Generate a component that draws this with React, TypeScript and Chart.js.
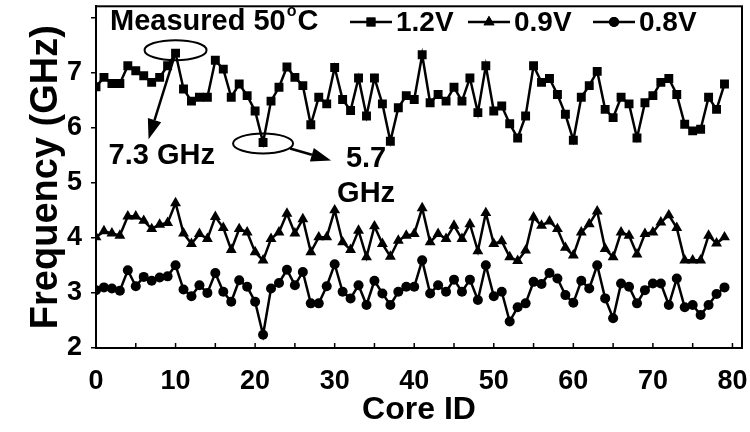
import React, { useEffect, useRef } from 'react';
import { Chart, registerables } from 'chart.js';
import { drawPoint } from 'chart.js/helpers';

Chart.register(...registerables);

const coreIds = Array.from({ length: 80 }, (_, i) => i);

const freq12V = [
  6.74, 6.91, 6.80, 6.80, 7.12, 7.03, 6.94, 6.82, 6.91, 7.12,
  7.35, 6.70, 6.48, 6.55, 6.55, 7.22, 7.06, 6.55, 6.79, 6.58,
  6.30, 5.73, 6.48, 6.73, 7.10, 6.91, 6.76, 6.05, 6.55, 6.43,
  7.09, 6.51, 6.31, 6.90, 6.21, 6.90, 6.43, 5.75, 6.36, 6.58,
  6.51, 7.32, 6.45, 6.60, 6.48, 6.73, 6.48, 6.90, 6.27, 7.12,
  6.30, 6.39, 6.07, 5.81, 6.21, 7.12, 6.82, 6.89, 6.60, 6.24,
  5.77, 6.55, 6.76, 7.02, 6.33, 6.18, 6.55, 6.43, 5.81, 6.45,
  6.58, 6.82, 6.89, 6.60, 6.06, 5.94, 5.97, 6.55, 6.33, 6.79,
];

const freq09V = [
  4.01, 4.12, 4.08, 4.04, 4.39, 4.39, 4.31, 4.16, 4.24, 4.27,
  4.63, 4.08, 3.89, 4.07, 3.98, 4.38, 4.18, 3.78, 4.16, 4.10,
  3.74, 3.59, 3.98, 4.10, 4.44, 4.08, 4.34, 3.74, 4.01, 4.01,
  4.50, 3.92, 3.78, 4.13, 3.65, 4.21, 3.89, 3.66, 3.95, 4.04,
  4.07, 4.54, 3.92, 4.07, 3.98, 4.22, 3.98, 4.25, 3.76, 4.45,
  3.89, 3.94, 3.65, 3.58, 3.77, 4.37, 4.22, 4.30, 4.16, 3.82,
  3.68, 4.10, 4.25, 4.48, 3.80, 3.65, 4.10, 4.04, 3.70, 4.07,
  4.10, 4.28, 4.41, 4.18, 3.59, 3.59, 3.59, 4.04, 3.90, 4.01,
];

const freq08V = [
  3.05, 3.10, 3.08, 3.04, 3.41, 3.12, 3.29, 3.22, 3.28, 3.30,
  3.50, 3.06, 2.94, 3.14, 3.00, 3.36, 3.02, 2.84, 3.23, 3.11,
  2.84, 2.24, 3.08, 3.18, 3.42, 3.14, 3.38, 2.81, 2.81, 3.12,
  3.52, 3.02, 2.90, 3.14, 2.78, 3.22, 2.99, 2.78, 3.02, 3.11,
  3.11, 3.59, 2.99, 3.14, 3.02, 3.24, 3.02, 3.24, 2.87, 3.50,
  2.94, 3.02, 2.48, 2.74, 2.81, 3.20, 3.16, 3.36, 3.26, 2.96,
  2.82, 3.22, 3.08, 3.50, 2.90, 2.54, 3.17, 3.11, 2.81, 3.05,
  3.17, 3.17, 2.78, 3.26, 2.74, 2.78, 2.60, 2.78, 2.98, 3.10,
];

const seriesLabels = ['1.2V', '0.9V', '0.8V'];
const seriesMarkers = ['rect', 'triangle', 'circle'];
const seriesRadius = [6.3, 6.3, 5];
const xTickLabels = [0, 10, 20, 30, 40, 50, 60, 70, 80];
const xMinorTicks = [0, 5, 10, 15, 20, 25, 30, 35, 40, 45, 50, 55, 60, 65, 70, 75, 80];
const yTickLabels = [2, 3, 4, 5, 6, 7];

const FONT = "'Liberation Sans', Arial, Helvetica, sans-serif";

const decorPlugin = {
  id: 'decor',
  afterDraw(chart: any) {
    const { ctx, chartArea: a, scales } = chart;
    const xs = scales.x;
    const ys = scales.y;
    ctx.save();
    ctx.strokeStyle = '#000';
    ctx.fillStyle = '#000';
    // frame
    ctx.lineWidth = 2;
    ctx.strokeRect(a.left, a.top, a.right - a.left, a.bottom - a.top);
    // inward x ticks
    ctx.lineWidth = 1.5;
    xMinorTicks.forEach((v) => {
      const px = xs.getPixelForValue(v);
      ctx.beginPath();
      ctx.moveTo(px, a.bottom);
      ctx.lineTo(px, a.bottom - 5);
      ctx.stroke();
    });

    // legend
    ctx.textBaseline = 'middle';
    ctx.textAlign = 'left';
    const ly = 22;
    ctx.font = `bold 29px ${FONT}`;
    const t1 = 'Measured 50';
    ctx.fillText(t1, 110, ly);
    let tx = 110 + ctx.measureText(t1).width + 1;
    ctx.font = `bold 16px ${FONT}`;
    ctx.fillText('o', tx, ly - 10);
    tx += ctx.measureText('o').width + 1;
    ctx.font = `bold 29px ${FONT}`;
    ctx.fillText('C', tx, ly);

    const starts = [350, 468, 593];
    chart.data.datasets.forEach((ds: any, i: number) => {
      const x0 = starts[i];
      ctx.lineWidth = 2.5;
      ctx.beginPath();
      ctx.moveTo(x0, ly);
      ctx.lineTo(x0 + 42, ly);
      ctx.stroke();
      drawPoint(ctx, { pointStyle: ds.pointStyle, radius: ds.pointRadius, rotation: 0, borderWidth: 0 } as any, x0 + 21, ly);
      ctx.fill();
      ctx.font = `bold 28px ${FONT}`;
      ctx.fillStyle = '#000';
      ctx.fillText(ds.label, x0 + 46, ly + 1);
    });

    // annotations
    const arrow = (x1: number, y1: number, x2: number, y2: number) => {
      const ang = Math.atan2(y2 - y1, x2 - x1);
      const hl = 20, hw = 7;
      const bx = x2 - hl * Math.cos(ang);
      const by = y2 - hl * Math.sin(ang);
      ctx.lineWidth = 2.5;
      ctx.beginPath();
      ctx.moveTo(x1, y1);
      ctx.lineTo(bx, by);
      ctx.stroke();
      ctx.beginPath();
      ctx.moveTo(x2, y2);
      ctx.lineTo(bx + hw * Math.sin(ang), by - hw * Math.cos(ang));
      ctx.lineTo(bx - hw * Math.sin(ang), by + hw * Math.cos(ang));
      ctx.closePath();
      ctx.fill();
    };

    const px = xs.getPixelForValue(10);
    const py = ys.getPixelForValue(freq12V[10]);
    ctx.lineWidth = 2;
    ctx.beginPath();
    ctx.ellipse(px, py - 3, 31, 10, 0, 0, Math.PI * 2);
    ctx.stroke();
    arrow(px - 1, py + 3, px - 27, py + 86);
    ctx.font = `bold 29px ${FONT}`;
    ctx.textAlign = 'left';
    ctx.fillText('7.3 GHz', px - 67, py + 103);

    const qx = xs.getPixelForValue(21);
    const qy = ys.getPixelForValue(freq12V[21]);
    ctx.lineWidth = 2;
    ctx.beginPath();
    ctx.ellipse(qx, qy + 1, 30, 10, 0, 0, Math.PI * 2);
    ctx.stroke();
    arrow(qx + 27, qy + 6, qx + 68, qy + 18);
    ctx.textAlign = 'center';
    ctx.fillText('5.7', qx + 103, qy + 17);
    ctx.fillText('GHz', qx + 103, qy + 52);

    ctx.restore();
  },
};

export default function App() {
  const ref = useRef<HTMLCanvasElement | null>(null);

  useEffect(() => {
    document.body.style.margin = '0';
    const canvas = ref.current;
    if (!canvas) return;
    const mk = (vals: number[], i: number) => ({
      label: seriesLabels[i],
      data: vals.map((y, k) => ({ x: coreIds[k], y })),
      borderColor: '#000',
      backgroundColor: '#000',
      borderWidth: 2.5,
      pointStyle: seriesMarkers[i],
      pointRadius: seriesRadius[i],
      pointBorderWidth: 0,
      pointBackgroundColor: '#000',
      tension: 0,
    });
    const chart = new Chart(canvas, {
      type: 'line',
      data: {
        datasets: [mk(freq12V, 0), mk(freq09V, 1), mk(freq08V, 2)],
      },
      options: {
        animation: false,
        responsive: false,
        devicePixelRatio: 1,
        layout: { padding: { top: 5, right: 8, left: 0, bottom: 0 } },
        plugins: { legend: { display: false }, tooltip: { enabled: false } },
        scales: {
          x: {
            type: 'linear',
            min: 0,
            max: 81.2,
            afterBuildTicks: (axis: any) => {
              axis.ticks = xTickLabels.map((v) => ({ value: v }));
            },
            afterFit: (axis: any) => {
              axis.height = 84;
              axis.paddingLeft = 0;
              axis.paddingRight = 0;
            },
            ticks: {
              autoSkip: false,
              maxRotation: 0,
              padding: 9,
              color: '#000',
              font: { family: FONT, size: 27, weight: 'bold' },
            },
            grid: { display: false },
            border: { display: true, color: '#000', width: 2 },
            title: {
              display: true,
              text: 'Core ID',
              color: '#000',
              font: { family: FONT, size: 32, weight: 'bold' },
              padding: { top: 0, bottom: 3 },
            },
          },
          y: {
            type: 'linear',
            min: 2,
            max: 8.2,
            afterBuildTicks: (axis: any) => {
              const t: any[] = [];
              yTickLabels.forEach((v) => {
                t.push({ value: v });
                t.push({ value: v + 0.5 });
              });
              t.push({ value: 8 });
              axis.ticks = t;
            },
            afterFit: (axis: any) => {
              axis.width = 96;
              axis.paddingTop = 0;
              axis.paddingBottom = 0;
            },
            ticks: {
              padding: 9,
              color: '#000',
              font: { family: FONT, size: 27, weight: 'bold' },
              callback: (v: any) => (yTickLabels.includes(Number(v)) ? String(v) : ''),
            },
            grid: {
              display: true,
              drawOnChartArea: false,
              drawTicks: true,
              tickLength: 5,
              color: '#000',
              lineWidth: 1.5,
            },
            border: { display: true, color: '#000', width: 2 },
            title: {
              display: true,
              text: 'Frequency (GHz)',
              color: '#000',
              font: { family: FONT, size: 38, weight: 'bold' },
              padding: { top: 24, bottom: 0 },
            },
          },
        },
      },
      plugins: [decorPlugin],
    } as any);
    return () => chart.destroy();
  }, []);

  return (
    <div style={{ width: 750, height: 432 }}>
      <canvas ref={ref} width={750} height={432} style={{ width: 750, height: 432, display: 'block' }} />
    </div>
  );
}
